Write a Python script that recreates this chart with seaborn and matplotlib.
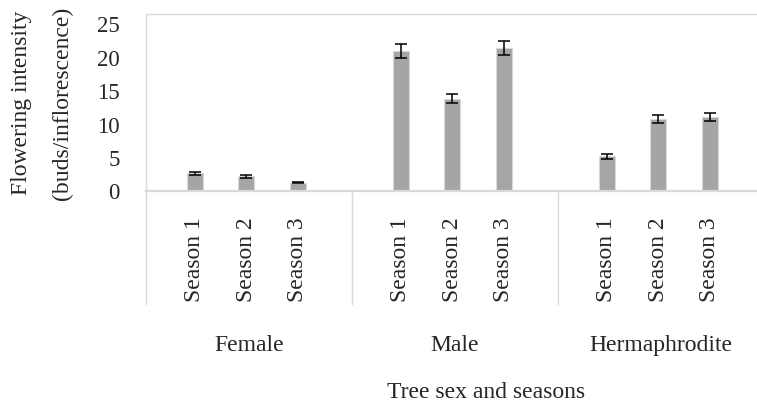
import numpy as np
import pandas as pd
import matplotlib
matplotlib.use('Agg')
import matplotlib.pyplot as plt
import matplotlib.transforms as mtransforms
import seaborn as sns

# Data
sexes = ['Female', 'Male', 'Hermaphrodite']
seasons = ['Season 1', 'Season 2', 'Season 3']
female_means = [2.55, 2.1, 1.15]
female_err = [0.2, 0.22, 0.06]
male_means = [20.85, 13.75, 21.3]
male_err = [1.05, 0.73, 1.08]
herm_means = [5.1, 10.65, 10.95]
herm_err = [0.33, 0.58, 0.6]

means = [female_means, male_means, herm_means]
errs = [female_err, male_err, herm_err]

# Build a long table: each group takes 4 slots, bars sit on slots 1-3
rows = []
for g, sex in enumerate(sexes):
    for s, season in enumerate(seasons):
        rows.append({'sex': sex, 'season': season,
                     'pos': g * 4 + s + 1 - 0.05,
                     'value': means[g][s], 'err': errs[g][s]})
df = pd.DataFrame(rows)

sns.set_theme(style='white')
plt.rcParams['font.family'] = ['Liberation Serif', 'DejaVu Serif']

W, H = 757, 402
fig = plt.figure(figsize=(W / 100, H / 100), dpi=100)
left, right, top, bottom = 146, 757, 15, 191.5
ax = fig.add_axes([left / W, (H - bottom) / H, (right - left) / W, (bottom - top) / H])

sns.barplot(data=df, x='pos', y='value', native_scale=True, width=0.31,
            color='#A5A5A5', saturation=1, edgecolor='#D9D9D9', linewidth=0.8,
            errorbar=None, ax=ax)
ax.errorbar(df['pos'], df['value'], yerr=df['err'], fmt='none',
            ecolor='black', elinewidth=1.1, capsize=4.6, capthick=1.1)

slot_px = 51.5
ax.set_xlim(0, (right - left) / slot_px)
ax.set_ylim(0, 26.4)
ax.set_yticks([0, 5, 10, 15, 20, 25])
ax.tick_params(axis='y', length=0, pad=19, labelsize=16.5)
ax.set_xticks(df['pos'])
ax.set_xticklabels(df['season'], rotation=90)
ax.tick_params(axis='x', length=0, pad=18.5, labelsize=17)
ax.set_xlabel('')
ax.set_ylabel('')

for side in ['top', 'left']:
    ax.spines[side].set_color('#D9D9D9')
    ax.spines[side].set_linewidth(1.0)
ax.spines['bottom'].set_color('#D9D9D9')
ax.spines['bottom'].set_linewidth(1.6)
ax.spines['right'].set_visible(False)

# category separators below the axis
trans = mtransforms.blended_transform_factory(ax.transData, ax.transAxes)
sep_bottom = -(305 - bottom) / (bottom - top)
for g in range(len(sexes)):
    ax.plot([g * 4, g * 4], [0, sep_bottom], color='#D9D9D9', lw=1.0,
            transform=trans, clip_on=False)

# group labels
group_y = -(346 - bottom) / (bottom - top)
for g, sex in enumerate(sexes):
    ax.text(g * 4 + 2, group_y, sex, transform=trans, ha='center', va='center',
            fontsize=17)

fig.text(486 / W, 1 - 393 / H, 'Tree sex and seasons', ha='center', va='center',
         fontsize=17)
fig.text(22 / W, 1 - 103 / H, 'Flowering intensity', ha='center', va='center',
         rotation=90, fontsize=17)
fig.text(62 / W, 1 - 103 / H, '(buds/inflorescence)', ha='center', va='center',
         rotation=90, fontsize=17)

fig.savefig('out.png', dpi=100)
